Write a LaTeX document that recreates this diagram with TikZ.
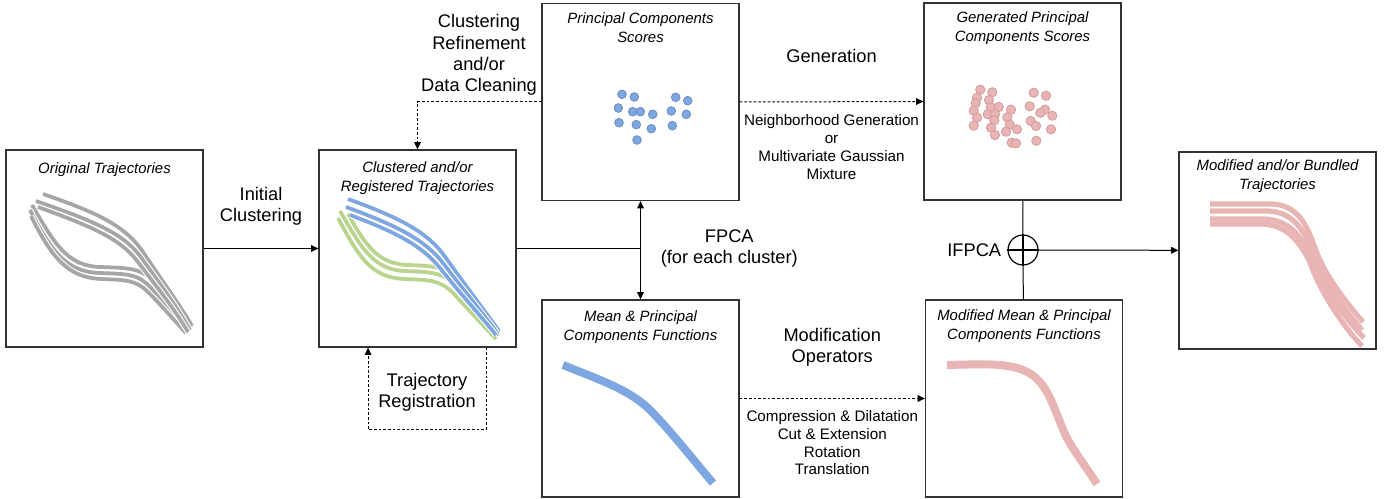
\documentclass[tikz,border=0pt]{standalone}
\usepackage{fontspec}
\setmainfont{Liberation Sans}
\usetikzlibrary{positioning,arrows.meta}

\definecolor{pcblue}{HTML}{7EA6E0}
\definecolor{pcblueline}{HTML}{6C8EBF}
\definecolor{pcpink}{HTML}{E8B4B4}
\definecolor{pcpinkline}{HTML}{D49C9C}
\definecolor{trgray}{HTML}{A6A6A6}
\definecolor{trgreen}{HTML}{B9D48C}
\definecolor{boxline}{HTML}{333333}

\tikzset{
  panel/.style={draw=boxline, line width=0.9pt, minimum width=147.75pt,
    minimum height=147.75pt, inner sep=0pt},
  title/.style={inner sep=0pt, align=center,
    font=\fontsize{11.2}{13.9}\selectfont\itshape},
  biglab/.style={inner sep=0pt, align=center,
    font=\fontsize{13.7}{16}\selectfont},
  smalllab/.style={inner sep=0pt, align=center,
    font=\fontsize{11.4}{13.4}\selectfont},
  link/.style={line width=0.75pt, >={Triangle[length=5.5pt,width=5pt]}},
  dashlink/.style={link, ->, dash pattern=on 2pt off 1.5pt},
  traj/.style={draw=#1, line width=2.8pt,
    preaction={draw=white, line width=4.4pt}},
  bundle/.style={draw=pcpink, line width=3.9pt},
  bluedot/.style={fill=pcblue, draw=pcblueline, line width=0.6pt},
  pinkdot/.style={fill=pcpink, draw=pcpinkline, line width=0.6pt},
}

\begin{document}
\begin{tikzpicture}[x=0.75pt,y=-0.75pt]

  \useasboundingbox (0,0) rectangle (1391,499);

  % boxes
  \node[panel] (orig) at (104.5,248.5) {};
  \node[panel] (clus) at (417.5,248.5) {};
  \node[panel] (pcs) at (640.5,102) {};
  \node[panel] (mean) at (640.5,398.5) {};
  \node[panel] (gen) at (1022.5,101.5) {};
  \node[panel] (mmean) at (1024,398.5) {};
  \node[panel] (bund) at (1277.5,250.5) {};

  % titles
  \node[title, below=9.5pt of orig.north] (origtitle) {Original Trajectories};
  \node[title, below=9pt of clus.north] (clustitle)
    {Clustered and/or\\Registered Trajectories};
  \node[title, below=7.5pt of pcs.north] (pcstitle)
    {Principal Components\\Scores};
  \node[title, below=7pt of gen.north] (gentitle)
    {Generated Principal\\Components Scores};
  \node[title, below=8.5pt of mean.north] (meantitle)
    {Mean \& Principal\\Components Functions};
  \node[title, below=7.5pt of mmean.north] (mmeantitle)
    {Modified Mean \& Principal\\Components Functions};
  \node[title, below=6pt of bund.north] (bundtitle)
    {Modified and/or Bundled\\Trajectories};

  % original trajectories
  \draw[traj=trgray] (32,205) .. controls (55,245) and (68,266) .. (100,267)
    .. controls (130,268) and (142,268) .. (155,283)
    .. controls (168,298) and (180,315) .. (191,329);
  \draw[traj=trgray] (30,210) .. controls (52,252) and (66,272) .. (100,273)
    .. controls (128,274) and (138,274) .. (150,287)
    .. controls (164,302) and (176,318) .. (188,332);
  \draw[traj=trgray] (31,216) .. controls (52,258) and (68,278) .. (102,279)
    .. controls (126,280) and (136,280) .. (148,292)
    .. controls (162,306) and (174,320) .. (186,333);
  \draw[traj=trgray] (43,194) .. controls (95,212) and (125,225) .. (143,252)
    .. controls (160,278) and (178,302) .. (192,326);
  \draw[traj=trgray] (36,201) .. controls (90,220) and (122,232) .. (140,256)
    .. controls (158,281) and (176,305) .. (190,330);
  \draw[traj=trgray] (38,207) .. controls (90,226) and (120,238) .. (138,262)
    .. controls (156,286) and (174,308) .. (188,332);

  % clustered trajectories
  \draw[traj=trgreen] (348,214) .. controls (366,246) and (378,264) .. (408,265)
    .. controls (432,266) and (448,266) .. (461,283)
    .. controls (474,300) and (488,320) .. (499,333);
  \draw[traj=trgreen] (340,211) .. controls (360,245) and (372,270) .. (405,271)
    .. controls (430,272) and (445,272) .. (458,288)
    .. controls (472,305) and (486,322) .. (498,336);
  \draw[traj=trgreen] (338,218) .. controls (358,255) and (370,278) .. (405,279)
    .. controls (430,280) and (440,280) .. (453,293)
    .. controls (467,308) and (482,324) .. (496,339);
  \draw[traj=pcblue] (348,199) .. controls (400,218) and (428,232) .. (446,258)
    .. controls (465,285) and (484,310) .. (499,331);
  \draw[traj=pcblue] (346,207) .. controls (398,226) and (425,240) .. (443,263)
    .. controls (462,288) and (482,312) .. (498,334);
  \draw[traj=pcblue] (350,215) .. controls (398,233) and (422,246) .. (440,268)
    .. controls (458,291) and (480,315) .. (496,335);

  % scores
  \foreach \x/\y in {622/94.3, 634.3/97, 618.3/108, 632.7/111.7, 640.3/111.7,
    652.7/114.3, 619/122.7, 636.3/124.7, 651.3/128.7, 637/140, 675.7/97.3,
    687.7/100.7, 671.3/111, 686.3/114.3, 672.3/125.7}
  \filldraw[bluedot] (\x,\y) circle (3.25pt);

  \foreach \x/\y in {980.3/89.7, 992.3/92.3, 977/97.7, 989/100, 975.7/103.3,
    973.7/110.7, 990.7/107.3, 998.7/107, 1011/109.7, 987.7/114.3, 995/114.3,
    977/117.7, 994.3/120.3, 1007.3/117.3, 973.7/125.7, 991/127.7,
    1009.7/124.7, 1017/129.3, 1006/131.7, 995/135, 1011.7/142.7, 1016/143.3,
    1033.7/92.7, 1046/95.7, 1029.7/106.3, 1045/109.7, 1040.3/112.7,
    1052.3/115.7, 1030.7/121, 1036/126, 1051/129.3, 1036.3/140.7}
  \filldraw[pinkdot] (\x,\y) circle (3.5pt);

  % mean functions
  \draw[pcblue, line width=6pt] (563,365) .. controls (600,380) and (630,390)
    .. (650,410) .. controls (670,430) and (695,462) .. (713,483);
  \draw[pcpink, line width=6pt] (947,365) .. controls (990,364) and (1018,362)
    .. (1036,378) .. controls (1052,392) and (1058,422) .. (1068,440)
    .. controls (1078,457) and (1088,470) .. (1097,484);

  % bundled trajectories
  \draw[bundle] (1210,204) -- (1272,204) .. controls (1296,205) and (1306,222)
    .. (1315,248) .. controls (1326,278) and (1346,302) .. (1363,322);
  \draw[bundle] (1210,211) -- (1268,211) .. controls (1292,212) and (1303,228)
    .. (1313,252) .. controls (1324,283) and (1345,310) .. (1362,330);
  \draw[bundle] (1210,219) -- (1264,219) .. controls (1288,220) and (1300,234)
    .. (1311,256) .. controls (1322,288) and (1345,318) .. (1364,338);
  \draw[bundle] (1210,224) -- (1262,224) .. controls (1285,225) and (1297,238)
    .. (1309,260) .. controls (1320,292) and (1343,326) .. (1362,346);

  % connectors
  \draw[link,->] (orig) -- node[biglab, above=17pt] (initlab)
    {Initial\\Clustering} (clus);

  \draw[dashlink] ([xshift=51.4pt]clus.south) -- ++(0pt,-61.5pt)
    -| ([xshift=-37.1pt]clus.south);
  \node[biglab] (reglab) at (427,392) {Trajectory\\Registration};

  \draw[dashlink] (pcs.west) -| (clus.north);
  \node[biglab] (refinelab) at (479,55)
    {Clustering\\Refinement\\and/or\\Data Cleaning};

  \coordinate (fpcajoin) at (clus.east -| pcs.south);
  \draw[link] (clus.east) -- (fpcajoin);
  \draw[link,<->] (pcs) -- (mean);
  \node[biglab, right=15pt of fpcajoin] (fpcalab) {FPCA\\(for each cluster)};

  \draw[dashlink] (pcs.east) -- node[biglab, above=29pt] (genlab) {Generation}
    node[smalllab, below=9.5pt] (genmethod)
    {Neighborhood Generation\\or\\Multivariate Gaussian\\Mixture} (gen.west);

  \draw[dashlink] (mean.east) -- node[biglab, above=23.5pt] (modlab)
    {Modification\\Operators} node[smalllab, below=8.5pt] (modops)
    {Compression \& Dilatation\\Cut \& Extension\\Rotation\\Translation}
    (mmean.west);

  % inverse fpca
  \node[circle, draw, line width=0.9pt, minimum size=22.5pt, inner sep=0pt]
    (oplus) at (1023,250) {};
  \draw[line width=2.2pt] (oplus.north) -- (oplus.south)
    (oplus.west) -- (oplus.east);
  \node[biglab, left=4.5pt of oplus] (ifpcalab) {IFPCA};
  \draw[link] (gen) -- (oplus);
  \draw[link] (oplus) -- (mmean);
  \draw[link,->] (oplus) -- (bund);

\end{tikzpicture}
\end{document}
